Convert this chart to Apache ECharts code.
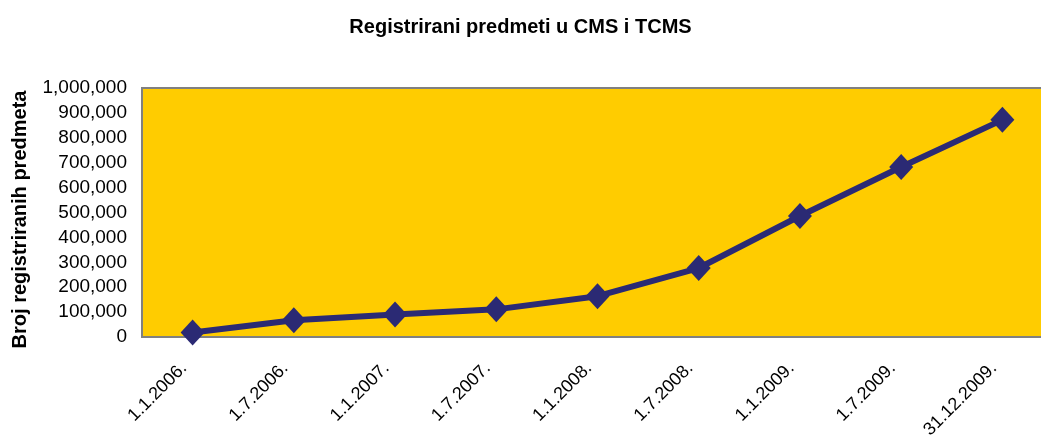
<!DOCTYPE html>
<html>
<head>
<meta charset="utf-8">
<script src="https://cdn.jsdelivr.net/npm/echarts@6/dist/echarts.min.js"></script>
<style>
  html, body { margin: 0; padding: 0; background: #fff; }
  #chart { width: 1041px; height: 439px; }
</style>
</head>
<body>
<div id="chart"></div>
<script>
const dates = ['1.1.2006.', '1.7.2006.', '1.1.2007.', '1.7.2007.', '1.1.2008.', '1.7.2008.', '1.1.2009.', '1.7.2009.', '31.12.2009.'];
const cases = [18000, 67000, 90000, 111000, 164000, 277000, 486000, 683000, 872000];

const font = 'Liberation Sans, Arial, sans-serif';
const chart = echarts.init(document.getElementById('chart'));
chart.setOption({
  animation: false,
  title: {
    text: 'Registrirani predmeti u CMS i TCMS',
    left: 'center',
    top: 12,
    textStyle: { fontFamily: font, fontSize: 20, fontWeight: 'bold', color: '#000' }
  },
  grid: {
    left: 142,
    top: 88,
    bottom: 102,
    width: 911,
    outerBoundsMode: 'none',
    containLabel: false,
    show: true,
    backgroundColor: '#FFCC00',
    borderColor: '#808080',
    borderWidth: 2
  },
  xAxis: {
    type: 'category',
    data: dates,
    boundaryGap: true,
    axisLine: { lineStyle: { color: '#808080', width: 2 } },
    axisTick: { show: false },
    axisLabel: {
      rotate: 45,
      margin: 20,
      padding: [0, 12, 0, 0],
      fontFamily: font,
      fontSize: 18,
      color: '#000'
    }
  },
  yAxis: {
    type: 'value',
    min: 0,
    max: 1000000,
    interval: 100000,
    name: 'Broj registriranih predmeta',
    nameLocation: 'middle',
    nameGap: 112,
    nameTextStyle: { fontFamily: font, fontSize: 20, fontWeight: 'bold', color: '#000', padding: [0, 14, 0, 0] },
    axisLine: { show: true, lineStyle: { color: '#808080', width: 2 } },
    axisTick: { show: false },
    splitLine: { show: false },
    axisLabel: {
      margin: 15,
      fontFamily: font,
      fontSize: 19,
      color: '#000',
      formatter: v => v.toLocaleString('en-US')
    }
  },
  series: [{
    type: 'line',
    data: cases,
    symbol: 'diamond',
    symbolSize: [24, 26],
    lineStyle: { color: '#2B2A74', width: 6 },
    itemStyle: { color: '#2B2A74' }
  }]
});
</script>
</body>
</html>
